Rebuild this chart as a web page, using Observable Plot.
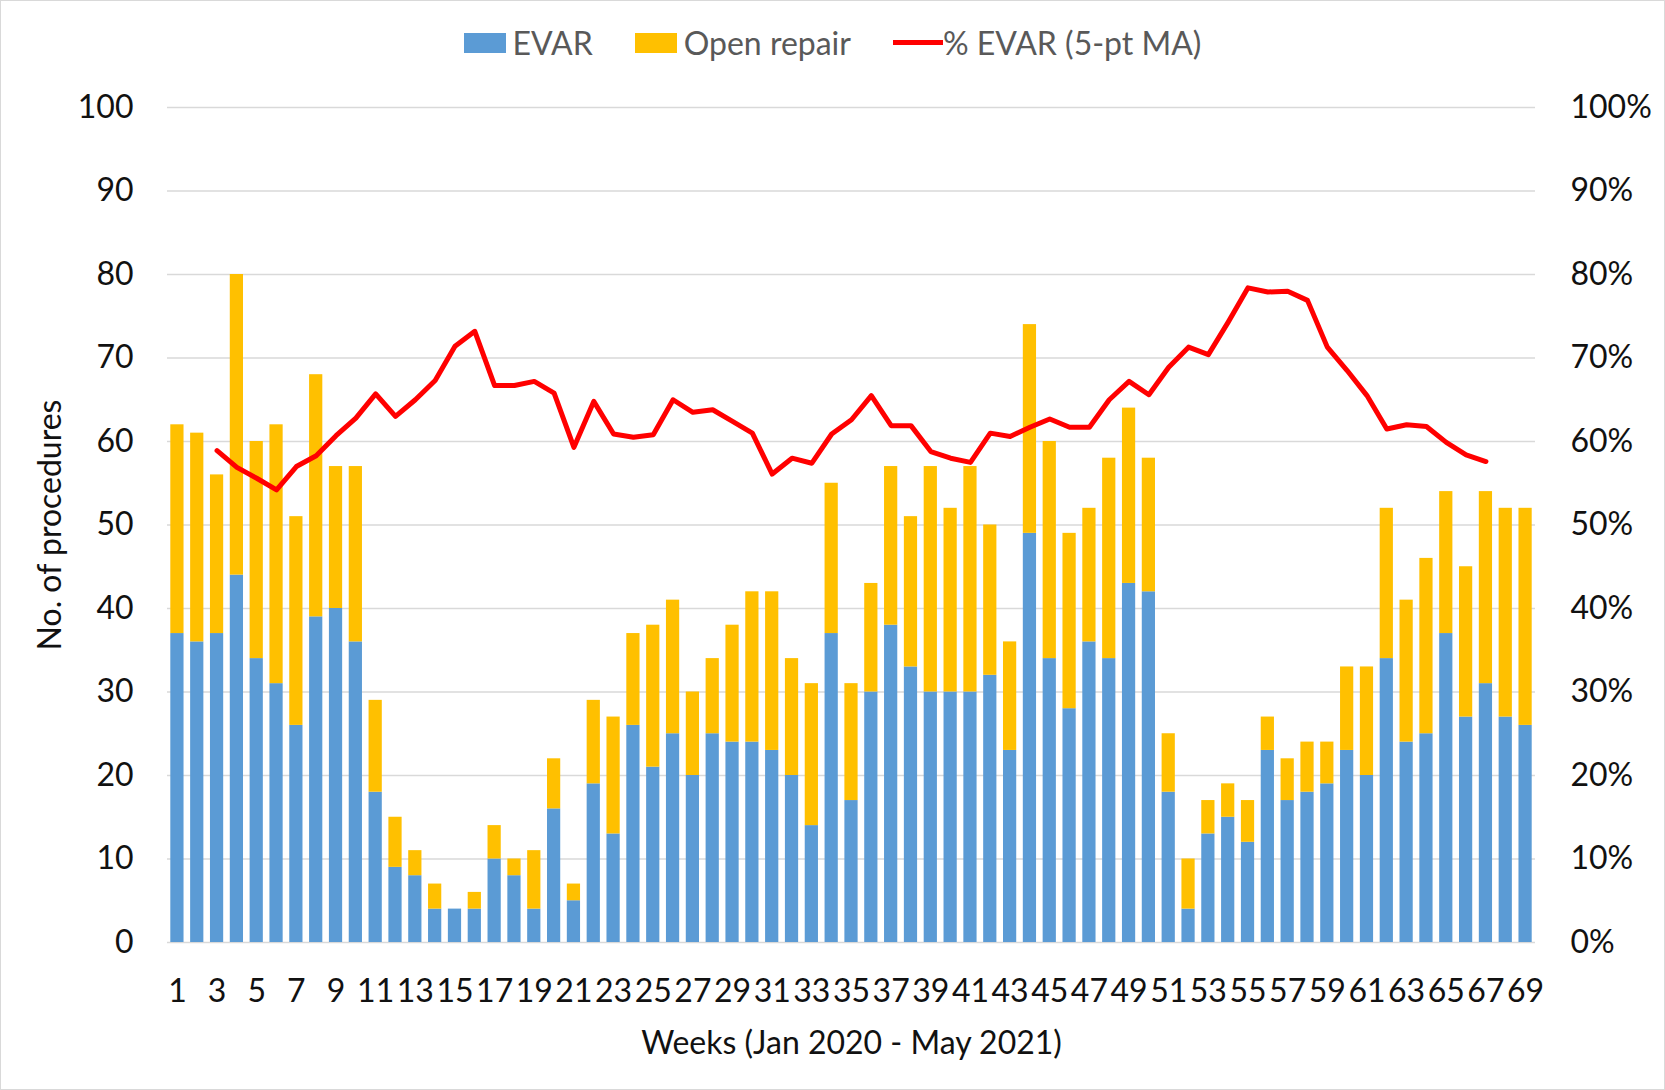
<!DOCTYPE html>
<html>
<head>
<meta charset="utf-8">
<script src="https://cdn.jsdelivr.net/npm/d3@7"></script>
<script src="https://cdn.jsdelivr.net/npm/@observablehq/plot@0.6"></script>
<style>
  html, body { margin: 0; padding: 0; background: #fff; }
  #wrap { width: 1663px; height: 1088px; border: 1px solid #d9d9d9; background: #fff; overflow: hidden; }
  #legend { height: 88px; display: flex; justify-content: center; align-items: center; padding-bottom: 5px;
            font-family: Lato, "Open Sans", sans-serif; font-size: 32px; color: #595959; box-sizing: border-box; }
  .item { display: flex; align-items: center; margin: 0 21px; }
  .sw { display: inline-block; width: 42px; height: 20px; margin-right: 7px; }
  .ln { display: inline-block; width: 50px; height: 5px; margin-right: 0px; }
</style>
</head>
<body>
<div id="wrap">
  <div id="legend"></div>
  <div id="chart"></div>
</div>
<script>
// ---- data ----
const weeks = [1,2,3,4,5,6,7,8,9,10,11,12,13,14,15,16,17,18,19,20,21,22,23,24,25,26,27,28,29,30,31,32,33,34,35,36,37,38,39,40,41,42,43,44,45,46,47,48,49,50,51,52,53,54,55,56,57,58,59,60,61,62,63,64,65,66,67,68,69];
const evar = [37,36,37,44,34,31,26,39,40,36, 18,9,8,4,4,4,10,8,4,16, 5,19,13,26,21,25,20,25,24,24, 23,20,14,37,17,30,38,33,30,30, 30,32,23,49,34,28,36,34,43,42, 18,4,13,15,12,23,17,18,19,23, 20,34,24,25,37,27,31,27,26];
const openRepair = [25,25,19,36,26,31,25,29,17,21, 11,6,3,3,0,2,4,2,7,6, 2,10,14,11,17,16,10,9,14,18, 19,14,17,18,14,13,19,18,27,22, 27,18,13,25,26,21,16,24,21,16, 7,6,4,4,5,4,5,6,5,10, 13,18,17,21,17,18,23,25,26];
const maWeeks = [3,4,5,6,7,8,9,10,11,12,13,14,15,16,17,18,19,20,21,22,23,24,25,26,27,28,29,30,31,32,33,34,35,36,37,38,39,40,41,42,43,44,45,46,47,48,49,50,51,52,53,54,55,56,57,58,59,60,61,62,63,64,65,66,67];
const maPct = [58.9,56.9,55.6,54.2,57.0,58.3,60.7,62.8,65.7,63.0,65.0,67.3,71.4,73.2,66.7,66.7,67.2,65.8,59.3,64.8,60.9,60.5,60.8,65.0,63.5,63.8,62.4,61.0,56.1,58.0,57.4,60.9,62.6,65.5,61.9,61.9,58.8,58.0,57.5,61.0,60.6,61.7,62.7,61.7,61.7,65.0,67.2,65.6,68.9,71.3,70.4,74.3,78.4,77.9,78.0,76.9,71.3,68.5,65.5,61.5,62.0,61.8,59.9,58.4,57.6];
const seriesNames = ["EVAR", "Open repair"];
const seriesColors = ["#5B9BD5", "#FFC000"];
const lineName = "% EVAR (5-pt MA)";
const lineColor = "#FF0000";
const yTicks = [0,10,20,30,40,50,60,70,80,90,100];
const xTicks = [1,3,5,7,9,11,13,15,17,19,21,23,25,27,29,31,33,35,37,39,41,43,45,47,49,51,53,55,57,59,61,63,65,67,69];
const xTitle = "Weeks (Jan 2020 - May 2021)";
const yTitle = "No. of procedures";

// ---- tables ----
const bars = [];
weeks.forEach((w, i) => {
  bars.push({week: w, type: seriesNames[0], value: evar[i]});
  bars.push({week: w, type: seriesNames[1], value: openRepair[i]});
});
const lineData = maWeeks.map((w, i) => ({week: w, pct: maPct[i]}));

// ---- legend ----
const legend = document.getElementById("legend");
seriesNames.forEach((n, i) => {
  const it = document.createElement("span"); it.className = "item";
  const sw = document.createElement("span"); sw.className = "sw"; sw.style.background = seriesColors[i];
  it.appendChild(sw); it.appendChild(document.createTextNode(n));
  legend.appendChild(it);
});
{
  const it = document.createElement("span"); it.className = "item";
  const ln = document.createElement("span"); ln.className = "ln"; ln.style.background = lineColor;
  it.appendChild(ln); it.appendChild(document.createTextNode(lineName));
  legend.appendChild(it);
}

// ---- chart ----
const chart = Plot.plot({
  width: 1663,
  height: 1000,
  marginTop: 18,
  marginBottom: 147,
  marginLeft: 166,
  marginRight: 129,
  style: {fontFamily: "Lato, 'Open Sans', sans-serif", fontSize: "32px", color: "#111", background: "white", overflow: "visible"},
  x: {type: "band", domain: weeks, paddingInner: 0.333, paddingOuter: 0.1667, axis: null},
  y: {domain: [0, 100], axis: null},
  color: {domain: seriesNames, range: seriesColors},
  marks: [
    Plot.ruleY(yTicks, {stroke: "#d9d9d9", strokeWidth: 1.5}),
    Plot.barY(bars, {x: "week", y: "value", fill: "type"}),
    Plot.line(lineData, {x: "week", y: "pct", stroke: lineColor, strokeWidth: 5, strokeLinejoin: "round", strokeLinecap: "round"}),
    Plot.axisY(yTicks, {anchor: "left", tickSize: 0, tickPadding: 34, fontSize: 32, label: null}),
    Plot.axisY(yTicks, {anchor: "right", tickSize: 0, tickPadding: 35, fontSize: 32, label: null, tickFormat: d => d + "%"}),
    Plot.axisX(xTicks, {anchor: "bottom", tickSize: 0, tickPadding: 37, fontSize: 32, label: null}),
    Plot.text([xTitle], {frameAnchor: "bottom", dy: 111, text: d => d, fontSize: 32, fill: "#111", textAnchor: "middle"}),
    Plot.text([yTitle], {frameAnchor: "left", dx: -117, rotate: -90, text: d => d, fontSize: 32, fill: "#111", textAnchor: "middle"})
  ]
});
document.getElementById("chart").appendChild(chart);
</script>
</body>
</html>
